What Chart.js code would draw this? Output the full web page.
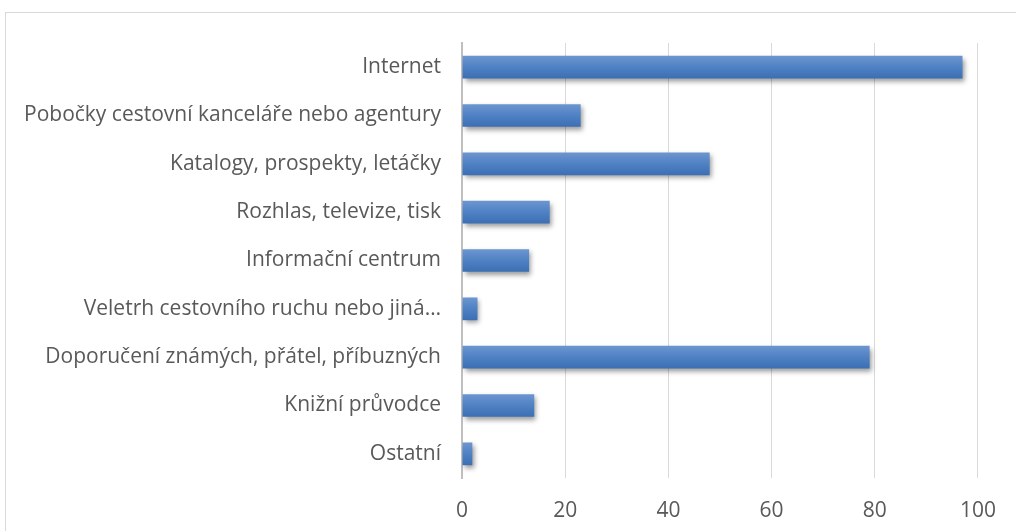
<!DOCTYPE html>
<html>
<head>
<meta charset="utf-8">
<script src="https://cdn.jsdelivr.net/npm/chart.js@4/dist/chart.umd.min.js"></script>
<style>
  html, body { margin: 0; padding: 0; background: #fff; }
  #wrap { position: relative; width: 1016px; height: 531px; overflow: hidden; }
  #frame { position: absolute; left: 5px; top: 12px; width: 1100px; height: 600px; border: 1px solid #d9d9d9; box-sizing: border-box; }
  canvas { position: absolute; left: 0; top: 0; }
</style>
</head>
<body>
<div id="wrap">
  <div id="frame"></div>
  <canvas id="chartZdroje" width="1016" height="531"></canvas>
</div>
<script>
// zdroje informací o cestování
const kategorie = [
  'Internet',
  'Pobočky cestovní kanceláře nebo agentury',
  'Katalogy, prospekty, letáčky',
  'Rozhlas, televize, tisk',
  'Informační centrum',
  'Veletrh cestovního ruchu nebo jiná…',
  'Doporučení známých, přátel, příbuzných',
  'Knižní průvodce',
  'Ostatní'
];
const hodnoty = [97, 23, 48, 17, 13, 3, 79, 14, 2];
const osaX = [0, 20, 40, 60, 80, 100];

// přechod a stín pro každý pruh zvlášť
const stinPruhu = {
  id: 'stinPruhu',
  beforeDatasetsDraw(chart) {
    const ctx = chart.ctx;
    chart.getDatasetMeta(0).data.forEach(bar => {
      const top = bar.y - bar.height / 2;
      const g = ctx.createLinearGradient(0, top, 0, top + bar.height);
      g.addColorStop(0, '#6d96cf');
      g.addColorStop(0.5, '#4f81c4');
      g.addColorStop(1, '#3b6eb3');
      bar.options = Object.assign({}, bar.options, { backgroundColor: g });
    });
    ctx.save();
    ctx.shadowColor = 'rgba(0,0,0,0.4)';
    ctx.shadowBlur = 5;
    ctx.shadowOffsetX = 2;
    ctx.shadowOffsetY = 3;
  },
  afterDatasetsDraw(chart) {
    chart.ctx.restore();
  }
};

const pismo = { family: '"Open Sans"', size: 21 };

new Chart(document.getElementById('chartZdroje'), {
  type: 'bar',
  data: {
    labels: kategorie,
    datasets: [{
      data: hodnoty,
      backgroundColor: '#4f81c4',
      borderWidth: 0,
      barPercentage: 0.94,
      categoryPercentage: 0.5
    }]
  },
  plugins: [stinPruhu],
  options: {
    indexAxis: 'y',
    responsive: false,
    animation: false,
    layout: { padding: { top: 43, right: 36, left: 0, bottom: 0 } },
    plugins: { legend: { display: false }, tooltip: { enabled: false } },
    scales: {
      x: {
        min: 0, max: 100,
        afterBuildTicks: s => { s.ticks = osaX.map(v => ({ value: v })); },
        afterFit: s => { s.height = 53; },
        grid: { color: '#d9d9d9', lineWidth: 1, drawTicks: false },
        border: { display: false },
        ticks: { color: '#595959', padding: 20, font: pismo }
      },
      y: {
        afterFit: s => { s.width = 462; },
        grid: { display: false, drawTicks: false },
        border: { display: true, color: '#bfbfbf', width: 2 },
        ticks: { color: '#595959', padding: 21, font: pismo }
      }
    }
  }
});
</script>
</body>
</html>
